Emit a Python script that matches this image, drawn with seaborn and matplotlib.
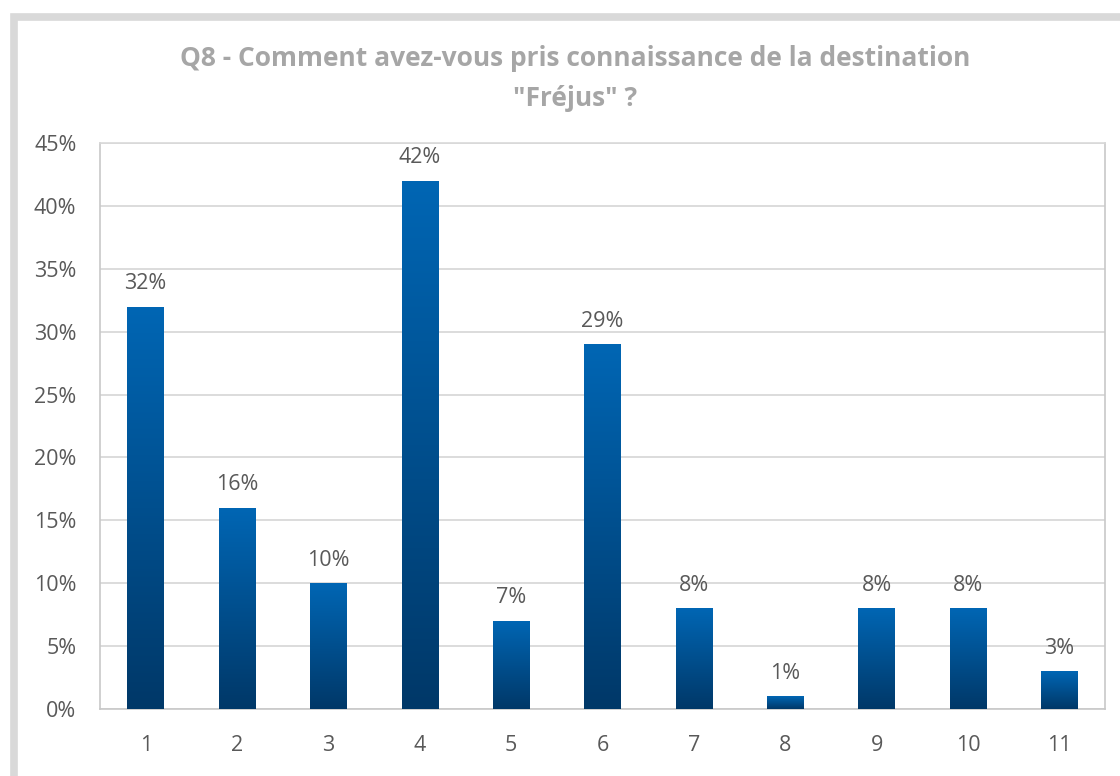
import numpy as np
import pandas as pd
import matplotlib
matplotlib.use("Agg")
import matplotlib.pyplot as plt
import seaborn as sns
from matplotlib.colors import LinearSegmentedColormap
from matplotlib.patches import Rectangle
from matplotlib.ticker import FuncFormatter, MultipleLocator

categories = ["1", "2", "3", "4", "5", "6", "7", "8", "9", "10", "11"]
values = [32, 16, 10, 42, 7, 29, 8, 1, 8, 8, 3]
title_text = 'Q8 - Comment avez-vous pris connaissance de la destination\n"Fréjus" ?'

sns.set_theme(style="white")
plt.rcParams['font.family'] = ['Open Sans', 'DejaVu Sans']

df = pd.DataFrame({"cat": categories, "val": values})

fig = plt.figure(figsize=(11.2, 7.76), dpi=100)
ax = fig.add_axes([100/1120, 1 - 709/776, (1105-100)/1120, (709-143)/776])

sns.barplot(data=df, x="cat", y="val", ax=ax, width=0.4, color="#0060a8", zorder=3)

ax.set_ylim(0, 45)
ax.yaxis.set_major_locator(MultipleLocator(5))
ax.yaxis.set_major_formatter(FuncFormatter(lambda v, p: f"{int(round(v))}%"))
ax.set_xlabel("")
ax.set_ylabel("")
ax.grid(axis="y", color="#d9d9d9", linewidth=1.3, zorder=0)
ax.set_axisbelow(True)
for side in ["left", "bottom", "right", "top"]:
    ax.spines[side].set_visible(True)
    ax.spines[side].set_color("#c8c8c8")
    ax.spines[side].set_linewidth(1.2)
ax.spines["top"].set_color("#d9d9d9")
ax.tick_params(axis="both", length=0, labelsize=15.5, colors="#595959")
ax.tick_params(axis="y", pad=17)
ax.tick_params(axis="x", pad=19)

cmap = LinearSegmentedColormap.from_list("g", ["#003868", "#0066b4"])
grad = np.linspace(0, 1, 256).reshape(-1, 1)
for patch, v in zip(ax.patches, values):
    x0, y0 = patch.get_x(), patch.get_y()
    w, h = patch.get_width(), patch.get_height()
    patch.set_facecolor("none")
    patch.set_edgecolor("none")
    im = ax.imshow(grad, extent=[x0, x0 + w, y0, y0 + h], origin="lower",
                   cmap=cmap, aspect="auto", zorder=3)
    im.set_clip_path(patch)
    ax.annotate(f"{v}%", (x0 + w/2, y0 + h), xytext=(0, 9), textcoords="offset points",
                ha="center", va="bottom", fontsize=15.5, color="#595959", zorder=4)
ax.set_xlim(-0.5, len(categories) - 0.5)
ax.set_ylim(0, 45)

fig.suptitle(title_text, x=575/1120, y=1 - 45/776, fontsize=19, fontweight="bold",
             color="#a6a6a6", va="top", linespacing=1.6)

frame = Rectangle((13.5/1120, -0.1), 1.2, 1 - 16.5/776 + 0.1, transform=fig.transFigure,
                  fill=False, edgecolor="#d9d9d9", linewidth=5.5, zorder=10)
fig.patches.append(frame)

fig.savefig("out.png", dpi=100)
